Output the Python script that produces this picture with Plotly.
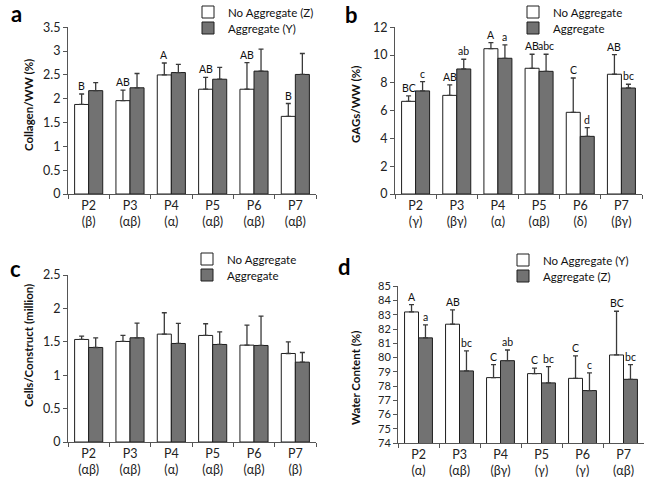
import plotly.graph_objects as go

passages = ["P2", "P3", "P4", "P5", "P6", "P7"]

# Panel a: Collagen/WW (%)
a_groups = ["β", "αβ", "α", "αβ", "αβ", "αβ"]
a_noagg = [1.88, 1.96, 2.50, 2.20, 2.20, 1.63]
a_noagg_err = [0.22, 0.22, 0.25, 0.25, 0.56, 0.27]
a_agg = [2.17, 2.23, 2.55, 2.41, 2.58, 2.51]
a_agg_err = [0.17, 0.30, 0.17, 0.25, 0.46, 0.44]
a_noagg_letters = ["B", "AB", "A", "AB", "AB", "B"]
a_agg_letters = ["", "", "", "", "", ""]

# Panel b: GAGs/WW (%)
b_groups = ["γ", "βγ", "α", "αβ", "δ", "βγ"]
b_noagg = [6.67, 7.10, 10.46, 9.05, 5.88, 8.62]
b_noagg_err = [0.39, 0.75, 0.44, 1.01, 2.47, 1.41]
b_agg = [7.42, 9.00, 9.77, 8.83, 4.15, 7.63]
b_agg_err = [0.67, 0.70, 0.96, 1.23, 0.63, 0.27]
b_noagg_letters = ["BC", "AB", "A", "AB", "C", "AB"]
b_agg_letters = ["c", "ab", "a", "abc", "d", "bc"]

# Panel c: Cells/Construct (million)
c_groups = ["αβ", "αβ", "α", "αβ", "αβ", "β"]
c_noagg = [1.535, 1.505, 1.615, 1.595, 1.45, 1.325]
c_noagg_err = [0.05, 0.09, 0.32, 0.175, 0.30, 0.175]
c_agg = [1.415, 1.56, 1.475, 1.46, 1.445, 1.195]
c_agg_err = [0.145, 0.22, 0.30, 0.19, 0.44, 0.145]
c_noagg_letters = ["", "", "", "", "", ""]
c_agg_letters = ["", "", "", "", "", ""]

# Panel d: Water Content (%)
d_groups = ["α", "αβ", "βγ", "γ", "γ", "αβ"]
d_noagg = [83.2, 82.34, 78.59, 78.87, 78.54, 80.18]
d_noagg_err = [0.52, 1.00, 0.91, 0.38, 1.57, 3.07]
d_agg = [81.38, 79.06, 79.78, 78.22, 77.68, 78.47]
d_agg_err = [0.91, 1.40, 0.75, 1.14, 1.24, 1.03]
d_noagg_letters = ["A", "AB", "C", "C", "C", "BC"]
d_agg_letters = ["a", "bc", "ab", "bc", "c", "bc"]

FONT = "Lato, 'Open Sans', 'DejaVu Sans', sans-serif"
WHITE = "#ffffff"
GREY = "#727272"
EDGE = "#1e1e1e"
ERRC = "#3a3a3a"

panels = [
    dict(key="a", groups=a_groups, noagg=a_noagg, noagg_err=a_noagg_err, agg=a_agg, agg_err=a_agg_err,
         nl=a_noagg_letters, al=a_agg_letters, names=("No Aggregate (Z)", "Aggregate (Y)"),
         ytitle="Collagen/WW (%)", yrange=[0, 3.5], dtick=0.5, ytf=12.5,
         xdom=[68 / 654, 316 / 654], ydom=[1 - 194 / 487, 1 - 27.3 / 487],
         legx=188, legy=(12, 28), lab=(16, 14), tpos=(28, 105)),
    dict(key="b", groups=b_groups, noagg=b_noagg, noagg_err=b_noagg_err, agg=b_agg, agg_err=b_agg_err,
         nl=b_noagg_letters, al=b_agg_letters, names=("No Aggregate", "Aggregate"),
         ytitle="GAGs/WW (%)", yrange=[0, 12], dtick=2, ytf=12.5,
         xdom=[395 / 654, 642 / 654], ydom=[1 - 194 / 487, 1 - 27.3 / 487],
         legx=513, legy=(12, 28), lab=(351, 15), tpos=(355, 105)),
    dict(key="c", groups=c_groups, noagg=c_noagg, noagg_err=c_noagg_err, agg=c_agg, agg_err=c_agg_err,
         nl=c_noagg_letters, al=c_agg_letters, names=("No Aggregate", "Aggregate"),
         ytitle="Cells/Construct (million)", yrange=[0, 2.5], dtick=0.5, ytf=12.5,
         xdom=[68 / 654, 316 / 654], ydom=[1 - 442 / 487, 1 - 275 / 487],
         legx=187, legy=(259, 275), lab=(15, 268), tpos=(28, 346)),
    dict(key="d", groups=d_groups, noagg=d_noagg, noagg_err=d_noagg_err, agg=d_agg, agg_err=d_agg_err,
         nl=d_noagg_letters, al=d_agg_letters, names=("No Aggregate (Y)", "Aggregate (Z)"),
         ytitle="Water Content (%)", yrange=[74, 85], dtick=1, ytf=11,
         xdom=[398 / 654, 644 / 654], ydom=[1 - 443 / 487, 1 - 286.3 / 487],
         legx=503, legy=(260, 276), lab=(345, 266), tpos=(355, 378)),
]

fig = go.Figure()
annotations = []
layout = {}
BARGAP = 0.32
half = (1 - BARGAP) / 4  # offset of each bar centre from category centre

for i, p in enumerate(panels):
    n = "" if i == 0 else str(i + 1)
    xa, ya = "x" + n, "y" + n
    leg_white = "legend" if i == 0 else "legend" + str(2 * i + 1)
    leg_grey = "legend" + str(2 * i + 2)
    cats = [f"{ps}<br>({g})" for ps, g in zip(passages, p["groups"])]
    fig.add_trace(go.Bar(
        x=cats, y=p["noagg"], name=p["names"][0], xaxis=xa, yaxis=ya, legend=leg_white,
        marker=dict(color=WHITE, line=dict(color=EDGE, width=1)),
        error_y=dict(type="data", array=p["noagg_err"], arrayminus=[0] * 6, symmetric=False,
                     color=ERRC, thickness=1.3, width=2.5),
    ))
    fig.add_trace(go.Bar(
        x=cats, y=p["agg"], name=p["names"][1], xaxis=xa, yaxis=ya, legend=leg_grey,
        marker=dict(color=GREY, line=dict(color=EDGE, width=1)),
        error_y=dict(type="data", array=p["agg_err"], arrayminus=[0] * 6, symmetric=False,
                     color=ERRC, thickness=1.3, width=2.5),
    ))
    layout["xaxis" + n] = dict(
        domain=p["xdom"], anchor=ya, type="category", showline=True, linecolor="#555", linewidth=1,
        ticks="outside", tickson="boundaries", ticklen=4, tickcolor="#555",
        tickfont=dict(family=FONT, size=12.5, color="#222"), showgrid=False, fixedrange=True,
        range=[-0.5, 5.5],
    )
    layout["yaxis" + n] = dict(
        domain=p["ydom"], anchor=xa, range=p["yrange"], dtick=p["dtick"], showline=True,
        linecolor="#555", linewidth=1, ticks="outside", ticklen=4, tickcolor="#555",
        tickfont=dict(family=FONT, size=p["ytf"], color="#222"), showgrid=False, zeroline=False,
    )
    for legname, ly in ((leg_white, p["legy"][0]), (leg_grey, p["legy"][1])):
        layout[legname] = dict(
            x=p["legx"] / 654, y=1 - ly / 487, xanchor="left", yanchor="middle",
            bgcolor="rgba(0,0,0,0)", font=dict(family=FONT, size=11.5, color="#111"),
            itemwidth=30, tracegroupgap=0,
        )
    # y-axis title
    annotations.append(dict(
        x=p["tpos"][0] / 654, y=1 - p["tpos"][1] / 487, xref="paper", yref="paper",
        text="<b>" + p["ytitle"] + "</b>", textangle=-90, showarrow=False,
        xanchor="center", yanchor="middle",
        font=dict(family=FONT, size=11.5, color="#111"),
    ))
    # significance letters
    for j in range(6):
        for letters, vals, errs, off in ((p["nl"], p["noagg"], p["noagg_err"], -half),
                                         (p["al"], p["agg"], p["agg_err"], half)):
            if letters[j]:
                annotations.append(dict(
                    x=j + off, y=vals[j] + errs[j], xref=xa, yref=ya, text=letters[j],
                    showarrow=False, yanchor="bottom", yshift=0,
                    font=dict(family=FONT, size=10.5, color="#111"),
                ))
    # panel label
    annotations.append(dict(
        x=p["lab"][0] / 654, y=1 - p["lab"][1] / 487, xref="paper", yref="paper",
        text="<b>" + p["key"] + "</b>", showarrow=False, xanchor="center", yanchor="middle",
        font=dict(family=FONT, size=22, color="#000"),
    ))

fig.update_layout(
    width=654, height=487, margin=dict(l=0, r=0, t=0, b=0, autoexpand=False),
    paper_bgcolor="white", plot_bgcolor="white",
    barmode="group", bargap=BARGAP, bargroupgap=0,
    annotations=annotations, showlegend=True,
    **layout,
)

fig.write_html("out.html", config={"displayModeBar": False},
               post_script="document.body.style.margin='0px';")
